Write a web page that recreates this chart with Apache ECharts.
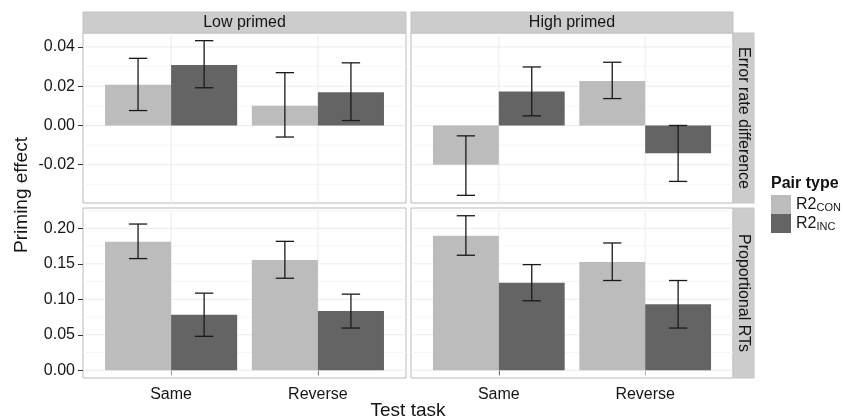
<!DOCTYPE html>
<html><head><meta charset="utf-8">
<script src="https://cdn.jsdelivr.net/npm/echarts@6/dist/echarts.min.js"></script>
<style>html,body{margin:0;padding:0;background:#fff}#c{width:842px;height:420px}</style>
</head><body><div id="c"></div><script>
// ---- data ----
const testTasks = ['Same', 'Reverse'];
const primingLevels = ['Low primed', 'High primed'];
const measures = ['Error rate difference', 'Proportional RTs'];
const pairTypes = ['R2CON', 'R2INC'];

// Error rate difference
const errLowCon = [0.0207, 0.0100];
const errLowConLo = [0.0076, -0.0059];
const errLowConHi = [0.0342, 0.0269];
const errLowInc = [0.0308, 0.0169];
const errLowIncLo = [0.0192, 0.0025];
const errLowIncHi = [0.0432, 0.0319];
const errHighCon = [-0.0200, 0.0227];
const errHighConLo = [-0.0356, 0.0137];
const errHighConHi = [-0.0053, 0.0322];
const errHighInc = [0.0173, -0.0141];
const errHighIncLo = [0.0049, -0.0285];
const errHighIncHi = [0.0298, 0.0000];

// Proportional RTs
const rtLowCon = [0.1813, 0.1555];
const rtLowConLo = [0.1574, 0.1297];
const rtLowConHi = [0.2061, 0.1817];
const rtLowInc = [0.0782, 0.0834];
const rtLowIncLo = [0.0478, 0.0595];
const rtLowIncHi = [0.1087, 0.1073];
const rtHighCon = [0.1897, 0.1527];
const rtHighConLo = [0.1621, 0.1265];
const rtHighConHi = [0.2178, 0.1794];
const rtHighInc = [0.1232, 0.0932];
const rtHighIncLo = [0.0979, 0.0595];
const rtHighIncHi = [0.1489, 0.1265];

// ticks
const errTicks = [-0.02, 0, 0.02, 0.04];
const errMinorTicks = [-0.03, -0.01, 0.01, 0.03];
const rtTicks = [0, 0.05, 0.10, 0.15, 0.20];
const rtMinorTicks = [0.025, 0.075, 0.125, 0.175, 0.225];
const errLimits = [-0.0395, 0.0471];
const rtLimits = [-0.0109, 0.2287];
const xLimits = [0.4, 2.6];
const xPositions = [1, 2];

// ---- layout / style ----
const FONT = 'Liberation Sans, Arial, Helvetica, sans-serif';
const TXT = '#151515';
const conColor = '#bcbcbc';
const incColor = '#646464';
const gridLeft = [83, 411];
const gridWidth = [323, 322];
const gridTop = [33, 208];
const gridHeight = 170;

const panels = [
  {row: 0, col: 0, con: errLowCon, conLo: errLowConLo, conHi: errLowConHi, inc: errLowInc, incLo: errLowIncLo, incHi: errLowIncHi},
  {row: 0, col: 1, con: errHighCon, conLo: errHighConLo, conHi: errHighConHi, inc: errHighInc, incLo: errHighIncLo, incHi: errHighIncHi},
  {row: 1, col: 0, con: rtLowCon, conLo: rtLowConLo, conHi: rtLowConHi, inc: rtLowInc, incLo: rtLowIncLo, incHi: rtLowIncHi},
  {row: 1, col: 1, con: rtHighCon, conLo: rtHighConLo, conHi: rtHighConHi, inc: rtHighInc, incLo: rtHighIncLo, incHi: rtHighIncHi}
];

const grids = [], xAxes = [], yAxes = [], series = [];

function renderGridLines(params, api) {
  const cs = params.coordSys;
  const kind = api.value(0), v = api.value(1), major = api.value(2);
  const style = {stroke: major ? '#ebebeb' : '#f6f6f6', lineWidth: 1};
  if (kind === 0) {
    const y = api.coord([1, v])[1];
    return {type: 'line', shape: {x1: cs.x, y1: y, x2: cs.x + cs.width, y2: y}, style};
  }
  const x = api.coord([v, 0])[0];
  return {type: 'line', shape: {x1: x, y1: cs.y, x2: x, y2: cs.y + cs.height}, style};
}

function renderErr(params, api) {
  const x = api.value(0) + api.value(3) * 0.225;
  const lo = api.coord([x, api.value(1)]);
  const hi = api.coord([x, api.value(2)]);
  const hw = api.size([0.0625, 0])[0];
  const s = {stroke: '#1a1a1a', lineWidth: 1.3};
  return {type: 'group', children: [
    {type: 'line', shape: {x1: lo[0], y1: lo[1], x2: hi[0], y2: hi[1]}, style: s},
    {type: 'line', shape: {x1: lo[0] - hw, y1: lo[1], x2: lo[0] + hw, y2: lo[1]}, style: s},
    {type: 'line', shape: {x1: hi[0] - hw, y1: hi[1], x2: hi[0] + hw, y2: hi[1]}, style: s}
  ]};
}

panels.forEach((p, i) => {
  const isErr = p.row === 0;
  const ticks = isErr ? errTicks : rtTicks;
  const minor = isErr ? errMinorTicks : rtMinorTicks;
  const lim = isErr ? errLimits : rtLimits;
  grids.push({left: gridLeft[p.col], top: gridTop[p.row], width: gridWidth[p.col], height: gridHeight,
    show: true, backgroundColor: '#fff', borderColor: '#b9b9b9', borderWidth: 1});
  xAxes.push({type: 'value', gridIndex: i, min: xLimits[0], max: xLimits[1],
    axisLine: {show: false}, splitLine: {show: false},
    axisTick: {show: p.row === 1, length: 5, lineStyle: {color: '#333'}, customValues: xPositions},
    axisLabel: {show: p.row === 1, customValues: xPositions, margin: 9, fontSize: 16, fontFamily: FONT, color: TXT,
      formatter: v => testTasks[Math.round(v) - 1] || ''}
  });
  yAxes.push({type: 'value', gridIndex: i, min: lim[0], max: lim[1],
    axisLine: {show: false}, splitLine: {show: false},
    axisTick: {show: p.col === 0, length: 5, lineStyle: {color: '#333'}, customValues: ticks},
    axisLabel: {show: p.col === 0, customValues: ticks, margin: 8, fontSize: 16, fontFamily: FONT, color: TXT,
      formatter: v => v.toFixed(2)}
  });
  const lines = [];
  ticks.forEach(t => lines.push([0, t, 1]));
  minor.forEach(t => lines.push([0, t, 0]));
  xPositions.forEach(t => lines.push([1, t, 1]));
  series.push({type: 'custom', xAxisIndex: i, yAxisIndex: i, z: 1, silent: true,
    renderItem: renderGridLines, data: lines, clip: false});
  const bw = gridWidth[p.col] / (xLimits[1] - xLimits[0]) * 0.45;
  series.push({name: pairTypes[0], type: 'bar', xAxisIndex: i, yAxisIndex: i, z: 2, barWidth: bw, barGap: '0%',
    itemStyle: {color: conColor}, data: xPositions.map((x, k) => [x, p.con[k]])});
  series.push({name: pairTypes[1], type: 'bar', xAxisIndex: i, yAxisIndex: i, z: 2, barWidth: bw, barGap: '0%',
    itemStyle: {color: incColor}, data: xPositions.map((x, k) => [x, p.inc[k]])});
  const err = [];
  xPositions.forEach((x, k) => {
    err.push([x, p.conLo[k], p.conHi[k], -1]);
    err.push([x, p.incLo[k], p.incHi[k], 1]);
  });
  series.push({type: 'custom', xAxisIndex: i, yAxisIndex: i, z: 3, silent: true,
    renderItem: renderErr, data: err, encode: {x: 0, y: [1, 2]}});
});

const txt = (text, x, y, opts) => Object.assign({type: 'text', x, y, silent: true,
  style: Object.assign({text, fill: TXT, fontSize: 16, fontFamily: FONT,
    align: 'center', verticalAlign: 'middle', textAlign: 'center', textVerticalAlign: 'middle'}, (opts && opts.style) || {})},
  opts && opts.rotation !== undefined ? {rotation: opts.rotation} : {});

const graphic = [];
primingLevels.forEach((lab, c) => {
  graphic.push({type: 'rect', silent: true, shape: {x: gridLeft[c], y: 12, width: gridWidth[c], height: 21},
    style: {fill: '#cccccc', stroke: '#c4c4c4', lineWidth: 1}});
  graphic.push(txt(lab, gridLeft[c] + gridWidth[c] / 2, 22.5));
});
measures.forEach((lab, r) => {
  graphic.push({type: 'rect', silent: true, shape: {x: 733, y: gridTop[r], width: 21, height: gridHeight},
    style: {fill: '#cccccc', stroke: '#c4c4c4', lineWidth: 1}});
  graphic.push(txt(lab, 743.5, gridTop[r] + gridHeight / 2, {rotation: -Math.PI / 2}));
});
graphic.push(txt('Priming effect', 22, 195, {rotation: Math.PI / 2, style: {fontSize: 19}}));
graphic.push(txt('Test task', 408, 411, {style: {fontSize: 19}}));
graphic.push(txt('Pair type', 771, 184, {style: {fontSize: 16, fontWeight: 'bold', align: 'left', textAlign: 'left', fill: '#111'}}));

const chart = echarts.init(document.getElementById('c'), null, {renderer: 'canvas'});
chart.setOption({
  animation: false,
  backgroundColor: '#fff',
  grid: grids, xAxis: xAxes, yAxis: yAxes, series,
  legend: {orient: 'vertical', left: 771, top: 195, padding: 0, itemWidth: 20, itemHeight: 19, itemGap: 0,
    icon: 'rect', data: pairTypes, selectedMode: false,
    formatter: n => '{a|R2}{b|' + n.slice(2) + '}',
    textStyle: {rich: {a: {fontSize: 16, fontFamily: FONT, color: TXT},
      b: {fontSize: 11, fontFamily: FONT, color: TXT, padding: [7, 0, 0, 0]}}}},
  graphic
});
</script></body></html>
